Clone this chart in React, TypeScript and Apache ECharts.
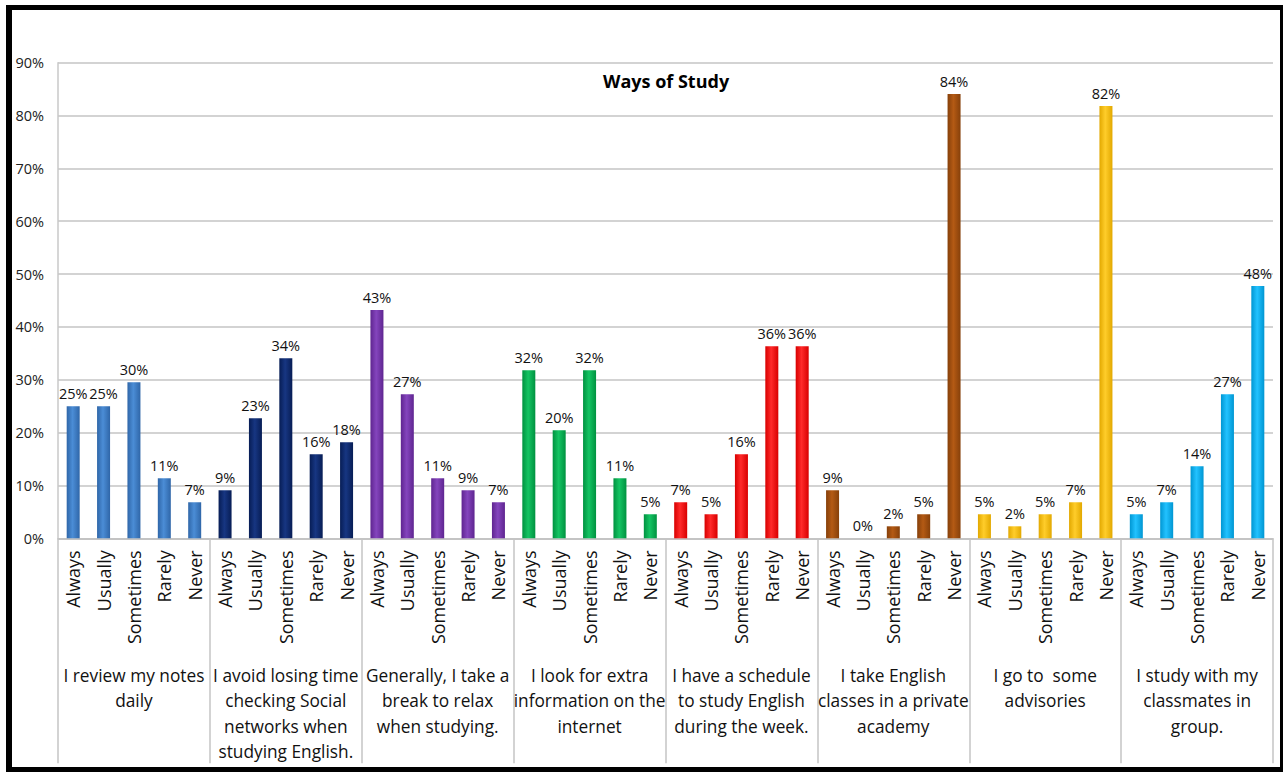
import React, { useEffect, useRef } from "react";
import * as echarts from "echarts";

const answers = ["Always", "Usually", "Sometimes", "Rarely", "Never"];
const groups = [
  "I review my notes\ndaily",
  "I avoid losing time\nchecking Social\nnetworks when\nstudying English.",
  "Generally, I take a\nbreak to relax\nwhen studying.",
  "I look for extra\ninformation on the\ninternet",
  "I have a schedule\nto study English\nduring the week.",
  "I take English\nclasses in a private\nacademy",
  "I go to  some\nadvisories",
  "I study with my\nclassmates in\ngroup.",
];
const reviewNotes = [25.0, 25.0, 29.55, 11.36, 6.82];
const avoidSocial = [9.09, 22.73, 34.09, 15.91, 18.18];
const takeBreak = [43.18, 27.27, 11.36, 9.09, 6.82];
const extraInfo = [31.82, 20.45, 31.82, 11.36, 4.55];
const schedule = [6.82, 4.55, 15.91, 36.36, 36.36];
const privateAcademy = [9.09, 0, 2.27, 4.55, 84.09];
const advisories = [4.55, 2.27, 4.55, 6.82, 81.82];
const classmates = [4.55, 6.82, 13.64, 27.27, 47.73];
const seriesByGroup = [reviewNotes, avoidSocial, takeBreak, extraInfo, schedule, privateAcademy, advisories, classmates];
const yTicks = [0, 10, 20, 30, 40, 50, 60, 70, 80, 90];

// [edge, center] colours per group
const groupColors = [
  ["#2f66a8", "#4b8dd6"],
  ["#071d55", "#173682"],
  ["#5f2590", "#8445bd"],
  ["#009240", "#14c463"],
  ["#d80000", "#ff2a2a"],
  ["#86400a", "#b45a14"],
  ["#e2a800", "#ffcd2a"],
  ["#0096d2", "#22c2ff"],
];

const FONT = "Open Sans";

export default function App() {
  const ref = useRef<HTMLDivElement>(null);
  useEffect(() => {
    if (!ref.current) return;
    const chart = echarts.init(ref.current, null, { renderer: "svg" });
    const categories: string[] = [];
    const data: any[] = [];
    seriesByGroup.forEach((vals, g) => {
      vals.forEach((v, i) => {
        categories.push(answers[i]);
        const [edge, center] = groupColors[g];
        data.push({
          value: v,
          itemStyle: {
            color: new echarts.graphic.LinearGradient(0, 0, 1, 0, [
              { offset: 0, color: edge },
              { offset: 0.45, color: center },
              { offset: 1, color: edge },
            ]),
          },
        });
      });
    });
    chart.setOption({
      animation: false,
      textStyle: { fontFamily: FONT },
      grid: { left: 58, right: 10, top: 62.7, bottom: 233.7, containLabel: false },
      xAxis: [
        {
          type: "category",
          data: categories,
          position: "bottom",
          axisLine: { show: true, lineStyle: { color: "#bfbfbf", width: 1.5 } },
          axisTick: { show: false },
          axisLabel: {
            interval: 0,
            rotate: 90,
            margin: 12,
            fontSize: 18,
            color: "#111",
            fontFamily: FONT,
          },
        },
        {
          type: "category",
          data: groups,
          position: "bottom",
          axisLine: { show: false },
          axisTick: { show: true, length: 225, interval: 0, lineStyle: { color: "#c4c4c4", width: 1.5 } },
          axisLabel: {
            interval: 0,
            margin: 124,
            fontSize: 17.3,
            lineHeight: 25.5,
            color: "#111",
            fontFamily: FONT,
            align: "center",
          },
        },
      ],
      yAxis: {
        type: "value",
        min: 0,
        max: 90,
        interval: 10,
        axisLine: { show: true, lineStyle: { color: "#c8c8c8", width: 1.5 } },
        axisTick: { show: false },
        splitLine: { lineStyle: { color: "#c4c4c4", width: 1.5 } },
        axisLabel: {
          formatter: (v: number) => (yTicks.includes(v) ? v + "%" : ""),
          margin: 14,
          fontSize: 14.5,
          color: "#222",
          fontFamily: FONT,
        },
      },
      series: [
        {
          type: "bar",
          xAxisIndex: 0,
          data,
          barWidth: 13,
          label: {
            show: true,
            position: "top",
            distance: 5,
            fontSize: 14.5,
            color: "#111",
            fontFamily: FONT,
            formatter: (p: any) => Math.round(p.value) + "%",
          },
        },
      ],
      graphic: [
        {
          type: "text",
          left: 603,
          top: 72,
          style: { text: "Ways of Study", fontSize: 18, fontWeight: "bold", fill: "#000", fontFamily: FONT },
        },
        { type: "rect", shape: { x: 6, y: 5, width: 6, height: 767 }, style: { fill: "#000" } },
        { type: "rect", shape: { x: 6, y: 5, width: 1276, height: 5 }, style: { fill: "#000" } },
        { type: "rect", shape: { x: 1280, y: 5, width: 3, height: 767 }, style: { fill: "#000" } },
        { type: "rect", shape: { x: 6, y: 767, width: 1277, height: 5 }, style: { fill: "#000" } },
      ],
    });
    return () => chart.dispose();
  }, []);
  return (
    <div
      ref={ref}
      style={{ position: "fixed", left: 0, top: 0, width: 1283, height: 772, background: "#fff" }}
    />
  );
}
